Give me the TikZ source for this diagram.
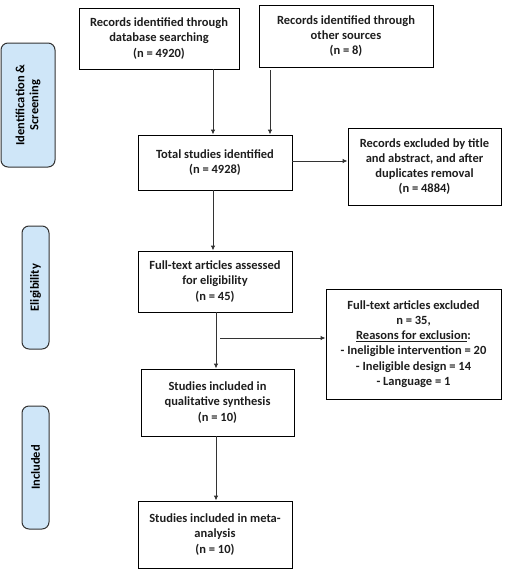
\documentclass[tikz,border=0pt]{standalone}
\usepackage{fontspec}
\setmainfont{Carlito}
\usetikzlibrary{arrows.meta,calc}
\definecolor{txt}{HTML}{1E1E1E}
\definecolor{lbl}{HTML}{CFE6F8}
\definecolor{edge}{HTML}{333333}
\tikzset{
  box/.style={draw=black, line width=0.9pt, fill=white, align=center, text=txt,
    font=\fontsize{12.5}{15.2}\selectfont\bfseries, inner sep=1pt},
  phase/.style={draw=edge, line width=1pt, fill=lbl, rounded corners=7pt,
    align=center, text=txt, inner sep=0pt},
  ptext/.style={rotate=90, align=center, text=black, font=\fontsize{12.5}{14}\selectfont\bfseries},
  arr/.style={draw=edge, line width=0.9pt, -{Latex[length=5pt,width=4.5pt]}}
}
\begin{document}
\begin{tikzpicture}[x=1pt,y=-1pt]
\useasboundingbox (0,0) rectangle (509,581);
% phase labels
\node[phase, minimum width=54pt, minimum height=124pt] (p1) at (28,105) {};
\node[ptext] (p1t) at (p1.center) {Identification \&\\Screening};
\node[phase, minimum width=27pt, minimum height=123pt] (p2) at (35.5,287.5) {};
\node[ptext] (p2t) at (p2.center) {Eligibility};
\node[phase, minimum width=27pt, minimum height=123pt] (p3) at (35.5,467.5) {};
\node[ptext] (p3t) at (p3.center) {Included};
% boxes
\node[box, minimum width=160pt, minimum height=61pt] (b1) at (159,38.5) {Records identified through\\database searching\\(n = 4920)};
\node[box, minimum width=174pt, minimum height=62pt] (b2) at (346,36) {Records identified through\\other sources\\(n = 8)};
\node[box, minimum width=154pt, minimum height=55pt] (tot) at (215,162.5) {Total studies identified\\(n = 4928)};
\node[box, minimum width=153pt, minimum height=77pt] (ex1) at (424.5,166.5) {Records excluded by title\\and abstract, and after\\duplicates removal\\(n = 4884)};
\node[box, minimum width=154pt, minimum height=61pt] (full) at (215,281.5) {Full-text articles assessed\\for eligibility\\(n = 45)};
\node[box, minimum width=175pt, minimum height=110pt] (ex2) at (413.5,344) {Full-text articles excluded\\n = 35,\\\underline{Reasons for exclusion}:\\- Ineligible intervention = 20\\- Ineligible design = 14\\- Language = 1};
\node[box, minimum width=153pt, minimum height=67pt] (qual) at (217.5,402.5) {Studies included in\\qualitative synthesis\\(n = 10)};
\node[box, minimum width=154pt, minimum height=67pt] (meta) at (215,534.5) {Studies included in meta-\\analysis\\(n = 10)};
% connectors
\coordinate (xa) at (213,0);
\coordinate (xb) at (270,0);
\coordinate (xc) at (216,0);
\coordinate (br) at (220,338);
\draw[arr] (b1.south -| xa) -- (tot.north -| xa);
\draw[arr] ($(b2.south -| xb)+(0,3)$) -- (tot.north -| xb);
\draw[arr] ($(tot.east)+(0,-1.5)$) -- (ex1.west |- {$(tot.east)+(0,-1.5)$});
\draw[arr] (tot.south -| xa) -- (full.north -| xa);
\draw[arr] (full.south -| xc) -- (qual.north -| xc);
\draw[arr] (br) -- (ex2.west |- br);
\draw[arr] (qual.south -| xc) -- (meta.north -| xc);
\end{tikzpicture}
\end{document}
